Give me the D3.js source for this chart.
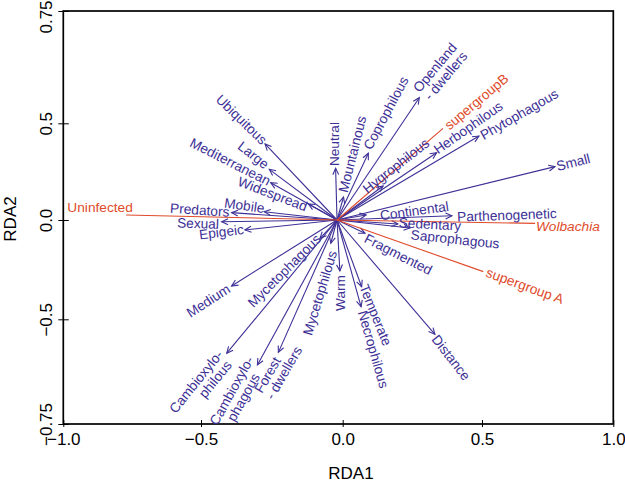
<!DOCTYPE html>
<html><head><meta charset="utf-8">
<script src="https://cdn.jsdelivr.net/npm/d3@7"></script>
<style>body{margin:0;background:#fff} svg{display:block}</style>
</head><body>
<svg id="chart" width="625" height="483"></svg>
<script>
// ---------- data ----------
const xTicks = [-1, -0.5, 0, 0.5, 1];
const yTicks = [-0.75, -0.5, 0, 0.5, 0.75];
const xTitle = "RDA1", yTitle = "RDA2";

const traitNames = ["Ubiquitous","Large","Mediterranean","Widespread","Mobile","Predators","Sexual","Epigeic",
  "Medium","Mycetophagous","Cambioxylophilous","Cambioxylophagous","Forest-dwellers","Mycetophilous","Warm",
  "Temperate","Necrophilous","Distance","Fragmented","Saprophagous","Sedentary","Parthenogenetic","Continental",
  "Small","Phytophagous","Herbophilous","Hygrophilous","Openland-dwellers","Coprophilous","Mountainous","Neutral"];
const traitRDA1 = [-0.274,-0.259,-0.254,-0.121,-0.277,-0.392,-0.427,-0.345,
  -0.392,-0.080,-0.409,-0.301,-0.227,-0.042,-0.010,
  0.068,0.066,0.331,0.080,0.242,0.198,0.392,0.084,
  0.778,0.489,0.337,0.145,0.275,0.092,0.003,-0.025];
const traitRDA2 = [0.393,0.262,0.193,0.083,0.043,0.038,-0.009,-0.050,
  -0.332,-0.092,-0.581,-0.609,-0.579,-0.117,-0.257,
  -0.336,-0.437,-0.536,-0.067,-0.040,-0.020,0.022,0.026,
  0.276,0.434,0.348,0.176,0.557,0.345,0.119,0.267];

const infNames = ["Uninfected","supergroupB","Wolbachia","supergroup A"];
const infRDA1 = [-0.772, 0.360, 0.702, 0.505];
const infRDA2 = [0.026, 0.474, -0.017, -0.260];

const originRDA = [-0.02, 0];

// ---------- layout (label placement relative to arrow tips, px) ----------
const labelLayout = {
  "Ubiquitous":[-23.5,-24.5,44], "Large":[-15.8,-14.3,38], "Mediterranean":[-40.4,-21,27],
  "Widespread":[-35.8,-10,21], "Mobile":[-19.8,-6.2,8], "Predators":[-31.8,-2.7,4],
  "Sexual":[-23.7,1.6,2], "Epigeic":[-23.5,2,-7], "Medium":[-23.4,14.8,-33],
  "Mycetophagous":[-35.8,32.5,-45],
  "Cambioxylophilous":[-30.9,28.4,-51,["Cambioxylo-","philous"],[14,13.5]],
  "Cambioxylophagous":[-25.8,25.8,-61,["Cambioxylo-","phagous"],[0,13.5]],
  "Forest-dwellers":[-10.8,22.5,-60,["Forest","- dwellers"],[10,13]],
  "Mycetophilous":[-10.9,49.7,-73], "Warm":[0,22,-90], "Temperate":[14.1,28.3,68],
  "Necrophilous":[12.3,42.5,74], "Distance":[16.2,23.2,52], "Fragmented":[33.3,20.9,27],
  "Saprophagous":[45,11.2,6], "Sedentary":[32,0.2,3], "Parthenogenetic":[55,-0.7,-2],
  "Continental":[48.2,-4.2,-8], "Small":[18.3,-4.4,-14], "Phytophagous":[40.2,-21.8,-30],
  "Herbophilous":[31.6,-25.2,-35], "Hygrophilous":[12.8,-20.2,-38],
  "Openland-dwellers":[15.7,-30.2,-50,["Openland","- dwellers"],[0.5,13.5]],
  "Coprophilous":[17.5,-40.3,-62], "Mountainous":[8.8,-42.8,-76], "Neutral":[-1.7,-24.3,-90],
  "Uninfected":[-26,-8,0], "supergroupB":[33.4,-26.6,-40], "Wolbachia":[32.8,2.5,0],
  "supergroup A":[41.7,14.1,20]
};

const BLUE = "#3d3096", RED = "#e04b2b";
const FONT = "'Liberation Sans', Arial, Helvetica, sans-serif";

// ---------- scales ----------
const svg = d3.select("#chart");
const x = d3.scaleLinear().domain(xTicks).range([63.3, 201, 342.7, 482, 613.3]);
const y = d3.scaleLinear().domain(yTicks).range([424, 319.3, 220, 123.3, 11]);
const pLeft = x(xTicks[0]), pRight = x(xTicks[xTicks.length-1]);
const pTop = y(yTicks[yTicks.length-1]), pBottom = y(yTicks[0]);

// ---------- axes ----------
const fmtX = d3.format(".1f");
const fmtY = d => Math.abs(d) === 0.75 ? d3.format(".2f")(d) : d3.format(".1f")(d);

const gx = svg.append("g").attr("transform", `translate(0,${pBottom})`)
  .call(d3.axisBottom(x).tickValues(xTicks).tickFormat(fmtX).tickSize(3));
gx.select(".domain").remove();
gx.selectAll(".tick line").attr("y1", -4).attr("y2", 3).attr("stroke", "#000").attr("stroke-width", 1);
gx.selectAll(".tick text").attr("y", 21).attr("dy", 0)
  .style("font-family", FONT).style("font-size", "17px").attr("fill", "#000");

const gy = svg.append("g").attr("transform", `translate(${pLeft},0)`)
  .call(d3.axisLeft(y).tickValues(yTicks).tickFormat(fmtY).tickSize(5));
gy.select(".domain").remove();
gy.selectAll(".tick line").attr("x1", -5).attr("x2", 5.5).attr("stroke", "#000").attr("stroke-width", 1);
gy.selectAll(".tick text").attr("x", 0).attr("y", 0).attr("dy", 0)
  .attr("text-anchor", "middle")
  .attr("transform", d => d === yTicks[yTicks.length-1]
        ? "translate(-11.3,5.5) rotate(-90)" : "translate(-11.3,0) rotate(-90)")
  .style("font-family", FONT).style("font-size", "17px").attr("fill", "#000");

svg.append("rect").attr("x", pLeft).attr("y", pTop)
  .attr("width", pRight - pLeft).attr("height", pBottom - pTop)
  .attr("fill", "none").attr("stroke", "#000").attr("stroke-width", 1.7);

svg.append("text").attr("x", 351).attr("y", 478.5).attr("text-anchor", "middle")
  .style("font-family", FONT).style("font-size", "17px").text(xTitle);
svg.append("text").attr("transform", "translate(15.5,219) rotate(-90)").attr("text-anchor", "middle")
  .style("font-family", FONT).style("font-size", "17px").text(yTitle);

// ---------- vectors ----------
const ox = x(originRDA[0]), oy = y(originRDA[1]);
const traits = traitNames.map((n, i) => ({name: n, vx: traitRDA1[i], vy: traitRDA2[i]}));
const infs = infNames.map((n, i) => ({name: n, vx: infRDA1[i], vy: infRDA2[i]}));

const gArrows = svg.append("g");
const headLen = 7, headAng = 25 * Math.PI / 180;
function headPath(d) {
  const tx = x(d.vx), ty = y(d.vy);
  const a = Math.atan2(ty - oy, tx - ox);
  const p1 = [tx - headLen * Math.cos(a - headAng), ty - headLen * Math.sin(a - headAng)];
  const p2 = [tx - headLen * Math.cos(a + headAng), ty - headLen * Math.sin(a + headAng)];
  return `M${p1[0]},${p1[1]}L${tx},${ty}L${p2[0]},${p2[1]}`;
}
gArrows.selectAll("line.trait").data(traits).join("line").attr("class", "trait")
  .attr("x1", ox).attr("y1", oy).attr("x2", d => x(d.vx)).attr("y2", d => y(d.vy))
  .attr("stroke", BLUE).attr("stroke-width", 1.1);
gArrows.selectAll("path.head").data(traits).join("path").attr("class", "head")
  .attr("d", headPath).attr("fill", "none").attr("stroke", BLUE).attr("stroke-width", 1.1);
gArrows.selectAll("line.inf").data(infs).join("line").attr("class", "inf")
  .attr("x1", ox).attr("y1", oy).attr("x2", d => x(d.vx)).attr("y2", d => y(d.vy))
  .attr("stroke", RED).attr("stroke-width", 1.1);

// ---------- labels ----------
function drawLabels(data, color) {
  const g = svg.append("g").selectAll("g").data(data).join("g")
    .attr("transform", d => {
      const L = labelLayout[d.name];
      return `translate(${x(d.vx) + L[0]},${y(d.vy) + L[1]}) rotate(${L[2]})`;
    });
  g.each(function(d) {
    const L = labelLayout[d.name];
    const lines = L[3] || [d.name];
    const sel = d3.select(this);
    lines.forEach((t, k) => {
      sel.append("text")
        .attr("x", k ? L[4][0] : 0).attr("y", k ? L[4][1] : 0).attr("dy", "0.35em")
        .attr("text-anchor", "middle")
        .style("font-family", FONT).style("font-size", "13.7px")
        .style("font-style", d.name === "Wolbachia" ? "italic" : "normal")
        .attr("fill", color).text(t);
    });
  });
}
drawLabels(traits, BLUE);
drawLabels(infs, RED);
</script>
</body></html>
